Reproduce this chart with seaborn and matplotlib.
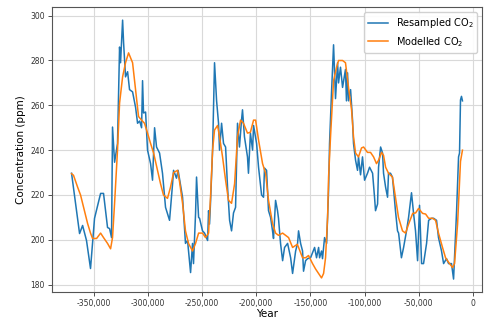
import numpy as np
import pandas as pd
import matplotlib
matplotlib.use("Agg")
import matplotlib.pyplot as plt
import matplotlib.ticker as mticker
import seaborn as sns

# Resampled CO2
resampled_year = [
    -370300, -362900, -360100, -356500, -352800, -349100, -343500, -340800, -337100, -335200,
    -333400, -332500, -330600, -327900, -326000, -325100, -323200, -322300, -320500, -318600,
    -316800, -314000, -311200, -309400, -307500, -305700, -304800, -303900, -302000, -300200,
    -297400, -295600, -293700, -291900, -289100, -286400, -283600, -279900, -277100, -276200,
    -273500, -272000, -267900, -265200, -263300, -260500, -258700, -257800, -255900, -255000,
    -253100, -252200, -249500, -247600, -244800, -243900, -243000, -242100, -240200, -238400,
    -236500, -234700, -233800, -231900, -230100, -228200, -226400, -224500, -222700, -220900,
    -219000, -217200, -215400, -213500, -212600, -210800, -208000, -207100, -205300, -203300,
    -202400, -199600, -197800, -195000, -193200, -192300, -190400, -188600, -186700, -184900,
    -184000, -182100, -180300, -179400, -177500, -175600, -173800, -171000, -168200, -166400,
    -163600, -161800, -160900, -159000, -157200, -156300, -154400, -152600, -149800, -148000,
    -146100, -144300, -142400, -141500, -139700, -138800, -136900, -135000, -133200, -132300,
    -130500, -128600, -127700, -126800, -124900, -124000, -122200, -120300, -117600, -116700,
    -115700, -114800, -112900, -111100, -110200, -108300, -106500, -105600, -103700, -101900,
    -100000, -97300, -95400, -92600, -90800, -89900, -88000, -87100, -85200, -83400,
    -82500, -80600, -78800, -77900, -76100, -74300, -73400, -71500, -69600, -68600,
    -66000, -64000, -61300, -59400, -56700, -54800, -53000, -51100, -49300, -47400,
    -45600, -42800, -40900, -38200, -36300, -33600, -31800, -29000, -27100, -24400,
    -22500, -19800, -17900, -15100, -13300, -12400, -11500, -10600, -9700,
]
resampled_co2 = [
    229.7, 202.8, 206.4, 199.7, 187.2, 209.6, 220.7, 220.7, 205.5, 205.0,
    201.0, 250.3, 234.6, 243.0, 286.0, 279.0, 298.0, 288.0, 272.7, 275.0,
    267.0, 266.0, 259.0, 252.0, 253.0, 250.0, 271.0, 256.6, 257.0, 240.0,
    234.0, 226.6, 250.0, 241.4, 238.7, 229.7, 214.5, 208.7, 225.0, 231.0,
    227.5, 231.0, 219.0, 198.4, 199.7, 185.4, 198.4, 189.4, 211.8, 228.0,
    210.0, 209.6, 204.0, 203.0, 199.7, 213.0, 207.0, 216.7, 240.0, 279.0,
    262.0, 252.0, 240.0, 252.0, 243.0, 241.4, 223.5, 208.7, 204.0, 212.0,
    214.5, 252.0, 241.4, 253.4, 258.0, 246.0, 237.0, 229.7, 247.6, 240.0,
    251.0, 243.0, 232.4, 220.0, 219.0, 232.0, 231.0, 213.0, 210.0, 204.0,
    200.6, 217.6, 213.0, 209.6, 198.4, 190.7, 196.6, 198.4, 192.0, 185.0,
    195.0, 198.4, 204.0, 198.4, 195.0, 186.0, 190.7, 191.6, 192.0, 194.3,
    196.6, 192.0, 196.6, 192.0, 195.0, 191.6, 201.0, 198.4, 222.0, 243.0,
    265.5, 287.0, 274.5, 263.0, 279.0, 270.0, 277.0, 268.0, 276.0, 262.0,
    274.5, 262.0, 267.0, 253.4, 243.0, 235.5, 231.0, 237.0, 229.0, 237.0,
    226.6, 229.7, 232.4, 229.7, 219.0, 213.0, 216.0, 232.4, 241.4, 238.7,
    229.7, 223.5, 219.0, 229.7, 229.7, 228.0, 223.5, 213.0, 204.0, 203.0,
    192.0, 196.6, 204.0, 210.0, 221.0, 211.8, 204.0, 190.7, 215.4, 189.4,
    189.4, 198.4, 208.7, 209.6, 209.6, 208.7, 201.0, 195.0, 189.4, 191.6,
    189.4, 189.4, 182.5, 213.0, 237.0, 238.7, 262.4, 264.0, 262.0,
]

# Modelled CO2
modelled_year = [
    -370300, -368500, -364700, -362000, -359200, -355500, -352800, -350900, -347200, -343500,
    -340800, -337100, -334300, -332500, -330600, -327900, -326000, -323200, -320500, -317700,
    -314000, -311200, -308500, -305700, -303000, -300200, -297400, -294600, -291000, -288200,
    -285500, -281800, -279000, -276200, -272500, -270700, -267900, -265200, -262400, -258700,
    -255900, -253100, -249500, -246700, -243900, -242100, -240200, -238400, -235600, -233800,
    -231000, -228200, -225500, -222700, -219900, -217200, -214400, -211700, -208000, -205300,
    -202400, -200500, -197800, -194100, -191300, -188600, -184900, -182100, -179400, -175600,
    -172800, -170100, -166400, -162000, -157200, -154400, -151700, -148000, -145200, -142400,
    -139700, -137800, -136000, -134100, -133200, -131400, -129500, -128600, -125800, -124000,
    -120300, -117600, -114800, -112000, -110200, -108300, -105600, -102800, -100900, -97300,
    -94500, -91700, -89000, -87100, -84300, -82500, -80600, -77900, -74300, -71500,
    -68700, -65000, -62200, -59400, -55600, -52900, -50200, -46500, -43700, -40900,
    -37200, -34500, -31800, -28100, -25300, -22500, -18800, -17000, -14200, -11500,
    -9700,
]
modelled_co2 = [
    229.5, 228.8, 223.5, 220.0, 214.5, 207.3, 203.0, 200.6, 200.6, 203.0,
    201.0, 198.4, 196.0, 201.0, 216.3, 240.0, 261.0, 272.7, 279.0, 283.4,
    279.0, 267.0, 255.0, 253.4, 252.0, 247.6, 243.0, 238.7, 231.0, 225.0,
    220.0, 218.5, 223.5, 230.0, 231.0, 226.0, 216.3, 204.0, 198.4, 195.0,
    198.4, 203.0, 203.0, 201.0, 203.0, 219.0, 240.0, 249.0, 251.0, 246.0,
    237.0, 226.6, 217.6, 216.3, 225.0, 246.0, 253.4, 252.0, 247.6, 248.0,
    253.4, 253.4, 244.5, 234.0, 229.7, 217.6, 207.3, 203.0, 202.0, 203.0,
    202.0, 201.0, 196.6, 198.0, 192.0, 192.0, 193.0, 189.4, 187.0, 185.0,
    183.0, 185.0, 192.0, 210.0, 228.0, 246.0, 262.4, 271.0, 277.0, 280.0,
    280.0, 279.0, 268.0, 258.0, 246.0, 238.7, 237.0, 241.0, 241.4, 239.0,
    239.0, 237.0, 234.0, 235.5, 239.0, 237.7, 232.4, 229.7, 228.0, 219.0,
    210.0, 204.0, 203.0, 207.0, 211.8, 212.0, 214.0, 211.8, 211.5, 209.6,
    209.6, 208.7, 203.0, 196.6, 192.0, 190.0, 187.6, 189.4, 207.0, 235.0,
    240.0,
]

df_res = pd.DataFrame({"Year": resampled_year, "CO2": resampled_co2})
df_mod = pd.DataFrame({"Year": modelled_year, "CO2": modelled_co2})

fig = plt.figure(figsize=(5, 3.2), dpi=100)
ax = fig.add_axes([0.104, 0.0875, 0.86, 0.89])

sns.lineplot(data=df_res, x="Year", y="CO2", ax=ax, color="#1f77b4",
             linewidth=1.1, label="Resampled CO$_2$", sort=False, estimator=None)
sns.lineplot(data=df_mod, x="Year", y="CO2", ax=ax, color="#ff7f0e",
             linewidth=1.1, label="Modelled CO$_2$", sort=False, estimator=None)

ax.set_xticks(np.arange(-350000, 1, 50000))
ax.set_yticks(np.arange(180, 301, 20))
ax.xaxis.set_major_formatter(mticker.FuncFormatter(lambda v, p: f"{v:,.0f}"))
ax.grid(True, color="#d9d9d9", linewidth=0.8)
ax.set_axisbelow(True)
ax.tick_params(labelsize=5.5, length=3, width=0.6, pad=2, colors="#333333")
for s in ax.spines.values():
    s.set_color("#555555")
    s.set_linewidth(0.8)

ax.set_xlabel("Year", fontsize=7.5, labelpad=1)
ax.set_ylabel("Concentration (ppm)", fontsize=7.5, labelpad=3)
ax.legend(loc="upper right", fontsize=7, framealpha=0.9, edgecolor="#cccccc")

fig.savefig("out.png", dpi=100)
